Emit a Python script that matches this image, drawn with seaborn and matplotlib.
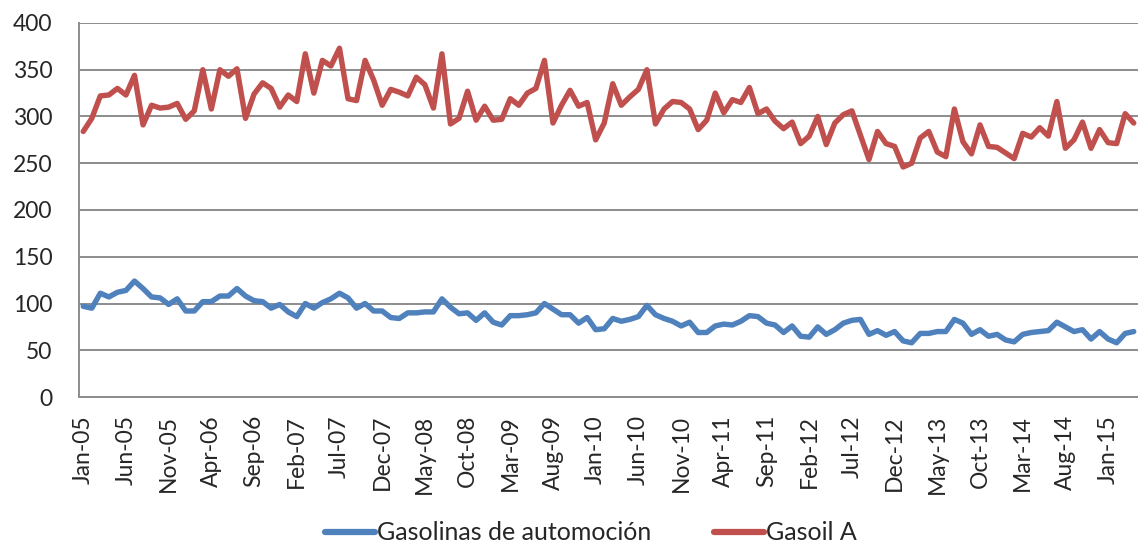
import numpy as np
import pandas as pd
import seaborn as sns
import matplotlib.pyplot as plt
from matplotlib.ticker import FixedLocator

# monthly series, Jan-05 .. Apr-15
months = pd.date_range("2005-01-01", "2015-04-01", freq="MS")

gasolinas = [97, 95, 111, 107, 112, 114, 124, 116, 107, 106, 99, 105,
             92, 92, 102, 102, 108, 108, 116, 108, 103, 102, 95, 99,
             91, 86, 100, 95, 101, 105, 111, 106, 95, 100, 92, 92,
             85, 84, 90, 90, 91, 91, 105, 96, 89, 90, 82, 90,
             80, 77, 87, 87, 88, 90, 100, 94, 88, 88, 79, 85,
             72, 73, 84, 81, 83, 86, 98, 88, 84, 81, 76, 80,
             69, 69, 76, 78, 77, 81, 87, 86, 79, 77, 69, 76,
             65, 64, 75, 67, 72, 79, 82, 83, 67, 71, 66, 70,
             60, 58, 68, 68, 70, 70, 83, 79, 67, 72, 65, 67,
             61, 59, 67, 69, 70, 71, 80, 75, 70, 72, 62, 70,
             62, 58, 68, 70]

gasoil_a = [284, 298, 322, 323, 330, 323, 344, 291, 312, 309, 310, 314,
            297, 306, 350, 308, 350, 343, 351, 298, 324, 336, 330, 310,
            323, 316, 367, 325, 360, 354, 373, 319, 317, 360, 339, 312,
            329, 326, 322, 342, 334, 309, 367, 292, 298, 327, 296, 311,
            296, 297, 319, 312, 325, 330, 360, 293, 312, 328, 311, 315,
            275, 293, 335, 312, 321, 329, 350, 292, 308, 316, 315, 308,
            286, 296, 325, 304, 318, 315, 331, 303, 308, 295, 287, 294,
            271, 279, 300, 270, 293, 302, 306, 280, 254, 284, 271, 268,
            246, 250, 277, 284, 262, 257, 308, 273, 260, 291, 268, 267,
            261, 255, 282, 278, 288, 279, 316, 266, 275, 294, 266, 286,
            272, 271, 303, 293]

tick_labels = ["Jan-05", "Jun-05", "Nov-05", "Apr-06", "Sep-06", "Feb-07",
               "Jul-07", "Dec-07", "May-08", "Oct-08", "Mar-09", "Aug-09",
               "Jan-10", "Jun-10", "Nov-10", "Apr-11", "Sep-11", "Feb-12",
               "Jul-12", "Dec-12", "May-13", "Oct-13", "Mar-14", "Aug-14",
               "Jan-15"]

series_names = ["Gasolinas de automoción", "Gasoil A"]
colors = ["#4F81BD", "#C0504D"]

n = len(months)
df = pd.DataFrame({
    "idx": np.tile(np.arange(n), 2),
    "valor": gasolinas + gasoil_a,
    "serie": np.repeat(series_names, n),
})

sns.set_style("white")
plt.rcParams["font.family"] = ["Lato", "DejaVu Sans"]

fig = plt.figure(figsize=(11.38, 5.47), dpi=100)
ax = fig.add_axes([0.0694, 0.2742, 0.9306, 0.6838])

sns.lineplot(data=df, x="idx", y="valor", hue="serie", palette=colors,
             linewidth=3.9, ax=ax, legend=False)

ax.set_xlim(-0.5, n - 0.5)
ax.set_ylim(0, 400)
ax.set_yticks(np.arange(0, 401, 50))
ax.yaxis.grid(True, color="#8c8c8c", linewidth=1.4)
ax.set_axisbelow(True)

# labels sit on the data points, tick marks between categories
label_pos = np.arange(len(tick_labels)) * 5
ax.set_xticks(label_pos)
ax.set_xticklabels(tick_labels, rotation=90)
ax.xaxis.set_minor_locator(FixedLocator(label_pos - 0.5))
ax.tick_params(axis="x", which="major", length=0, pad=13, labelsize=16.5)
ax.tick_params(axis="x", which="minor", length=8, width=1.4,
               color="#8c8c8c", direction="out")
ax.tick_params(axis="y", length=8, width=1.4, color="#8c8c8c",
               pad=11, labelsize=16.5, direction="out")
ax.set_xlabel("")
ax.set_ylabel("")

for side in ["top", "right"]:
    ax.spines[side].set_visible(False)
for side in ["left", "bottom"]:
    ax.spines[side].set_color("#8c8c8c")
    ax.spines[side].set_linewidth(1.4)

handles = [plt.Line2D([], [], color=c, linewidth=4.5) for c in colors]
fig.legend(handles, series_names, loc="center",
           bbox_to_anchor=(591 / 1138, 1 - 533 / 547), ncol=2,
           frameon=False, fontsize=18, handlelength=2.0,
           handletextpad=0.1, columnspacing=2.5,
           borderaxespad=0, borderpad=0)

fig.savefig("out.png", dpi=100)
